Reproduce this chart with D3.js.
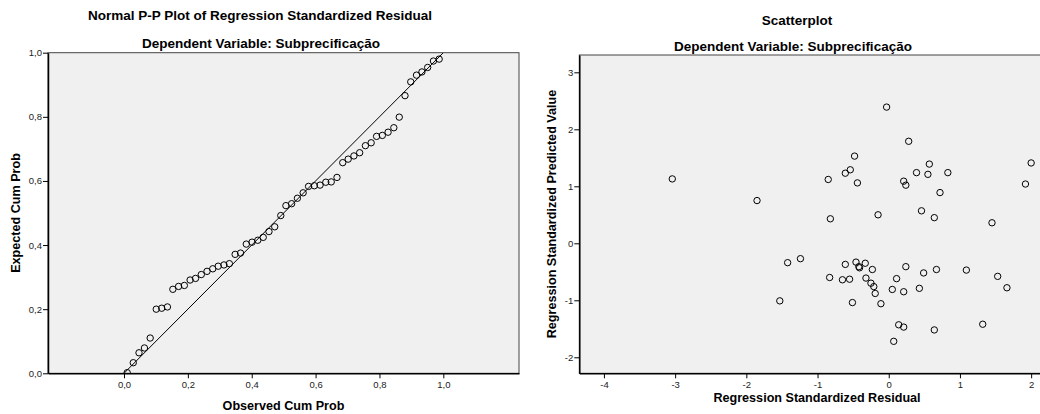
<!DOCTYPE html>
<html>
<head>
<meta charset="utf-8">
<script src="https://cdn.jsdelivr.net/npm/d3@7"></script>
<style>
  body { margin: 0; background: #fff; }
  text { font-family: "Liberation Sans", Arial, sans-serif; }
  .title { font-size: 13.5px; font-weight: bold; fill: #000; }
  .axis-label { font-size: 12.6px; font-weight: bold; fill: #000; }
  .tick text { font-size: 9.5px; fill: #222; }
</style>
</head>
<body>
<div id="chart"></div>
<script>

// Page size
const width = 1040;
const height = 414;

// P-P plot data (observed vs expected cumulative probability)
const ppObserved = [0.010, 0.029, 0.047, 0.064, 0.082, 0.101, 0.118, 0.136, 0.153, 0.171,
  0.189, 0.207, 0.224, 0.242, 0.260, 0.278, 0.295, 0.313, 0.330, 0.348,
  0.365, 0.383, 0.401, 0.419, 0.436, 0.454, 0.472, 0.491, 0.507, 0.525,
  0.543, 0.561, 0.578, 0.596, 0.614, 0.632, 0.649, 0.667, 0.685, 0.702,
  0.720, 0.738, 0.756, 0.774, 0.791, 0.809, 0.827, 0.845, 0.862, 0.880,
  0.898, 0.916, 0.933, 0.951, 0.969, 0.987];
const ppExpected = [0.002, 0.033, 0.064, 0.079, 0.110, 0.200, 0.203, 0.207, 0.262, 0.271,
  0.274, 0.291, 0.296, 0.308, 0.318, 0.326, 0.334, 0.338, 0.342, 0.371,
  0.375, 0.403, 0.409, 0.415, 0.424, 0.442, 0.457, 0.492, 0.523, 0.529,
  0.546, 0.563, 0.583, 0.585, 0.587, 0.596, 0.597, 0.611, 0.657, 0.668,
  0.678, 0.688, 0.710, 0.719, 0.739, 0.742, 0.752, 0.766, 0.799, 0.866,
  0.909, 0.930, 0.940, 0.954, 0.974, 0.980];
const ppTicks = [0, 0.2, 0.4, 0.6, 0.8, 1.0];

// Scatterplot data (standardized residual vs standardized predicted value)
const residual = [-3.04, -1.85, -0.85, -0.61, -0.54, -0.48, -0.44, -0.03, 0.21, 0.24,
  0.28, 0.39, 0.57, 0.55, 0.83, 0.72, 1.92, 2.00,
  -0.82, -0.15, 0.46, 0.64, 1.45,
  -1.42, -1.24, -1.53, -0.83, -0.65, -0.55, -0.61, -0.46, -0.42, -0.41,
  -0.33, -0.23, -0.32, -0.25, -0.21, -0.19, -0.51, -0.11, 0.24, 0.11,
  0.05, 0.21, 0.43, 0.49, 0.67, 1.09, 1.53, 1.66, 0.14, 0.21, 0.64, 1.32, 0.07];
const predicted = [1.13, 0.75, 1.12, 1.23, 1.29, 1.53, 1.06, 2.39, 1.09, 1.02,
  1.79, 1.24, 1.39, 1.21, 1.24, 0.89, 1.04, 1.41,
  0.43, 0.50, 0.57, 0.45, 0.36,
  -0.34, -0.27, -1.01, -0.60, -0.64, -0.63, -0.37, -0.33, -0.41, -0.43,
  -0.35, -0.46, -0.61, -0.70, -0.76, -0.88, -1.04, -1.06, -0.41, -0.62,
  -0.81, -0.85, -0.79, -0.52, -0.46, -0.47, -0.58, -0.78, -1.43, -1.47, -1.52, -1.42, -1.72];
const residTicks = [-4, -3, -2, -1, 0, 1, 2];
const predTicks = [-2, -1, 0, 1, 2, 3];

// comma decimals and plain hyphen minus, like the SPSS output
const locale = d3.formatLocale({decimal: ",", thousands: ".", grouping: [3], currency: ["", ""], minus: "-"});
const fmt1 = locale.format(".1f");
const fmt0 = locale.format("d");

const svg = d3.select("#chart")
  .append("svg")
  .attr("width", width)
  .attr("height", height);

// draws one framed panel, returns group for marks
function panel(x, y, id) {
  const r = [x.range(), y.range()];
  svg.append("clipPath").attr("id", id)
    .append("rect")
    .attr("x", r[0][0]).attr("y", r[1][1])
    .attr("width", r[0][1] - r[0][0]).attr("height", r[1][0] - r[1][1]);
  svg.append("rect")
    .attr("x", r[0][0]).attr("y", r[1][1])
    .attr("width", r[0][1] - r[0][0]).attr("height", r[1][0] - r[1][1])
    .attr("fill", "#f0f0f0")
    .attr("stroke", "#444")
    .attr("stroke-width", 1);
  return svg.append("g").attr("clip-path", `url(#${id})`);
}

function axes(x, y, xTicks, yTicks, xf, yf) {
  svg.append("g")
    .attr("transform", `translate(0,${y.range()[0]})`)
    .call(d3.axisBottom(x).tickValues(xTicks).tickFormat(xf).tickSize(5).tickSizeOuter(0))
    .call(g => g.select(".domain").attr("stroke", "#000").attr("stroke-width", 1.5));
  svg.append("g")
    .attr("transform", `translate(${x.range()[0]},0)`)
    .call(d3.axisLeft(y).tickValues(yTicks).tickFormat(yf).tickSize(5).tickSizeOuter(0).tickPadding(1))
    .call(g => g.select(".domain").attr("stroke", "#000").attr("stroke-width", 1.5));
}

/* Left: Normal P-P plot */

const xPP = d3.scaleLinear().domain([-0.238, 1.237]).range([48, 519]);
const yPP = d3.scaleLinear().domain([0, 1]).range([373.3, 52.7]);

const g1 = panel(xPP, yPP, "clip1");

g1.append("line")
  .attr("x1", xPP(0)).attr("y1", yPP(0))
  .attr("x2", xPP(1)).attr("y2", yPP(1))
  .attr("stroke", "#000")
  .attr("stroke-width", 1);

g1.selectAll(".pp")
  .data(d3.range(ppObserved.length))
  .enter()
  .append("circle")
    .attr("class", "pp")
    .attr("cx", i => xPP(ppObserved[i]))
    .attr("cy", i => yPP(ppExpected[i]))
    .attr("r", 3.2)
    .attr("fill", "none")
    .attr("stroke", "#000")
    .attr("stroke-width", 1);

axes(xPP, yPP, ppTicks, ppTicks, fmt1, fmt1);

svg.append("text").attr("class", "title")
  .attr("x", 260).attr("y", 20).attr("text-anchor", "middle")
  .text("Normal P-P Plot of Regression Standardized Residual");
svg.append("text").attr("class", "title")
  .attr("x", 261).attr("y", 48).attr("text-anchor", "middle")
  .text("Dependent Variable: Subprecificação");
svg.append("text").attr("class", "axis-label")
  .attr("x", 283.5).attr("y", 409.5).attr("text-anchor", "middle")
  .text("Observed Cum Prob");
svg.append("text").attr("class", "axis-label")
  .attr("transform", `translate(20,213) rotate(-90)`)
  .attr("text-anchor", "middle")
  .text("Expected Cum Prob");

/* Right: Scatterplot */

const xSc = d3.scaleLinear().domain([-4.346, 2.335]).range([579.3, 1055]);
const ySc = d3.scaleLinear().domain([-2.281, 3.304]).range([373.3, 55]);

const g2 = panel(xSc, ySc, "clip2");

g2.selectAll(".pt")
  .data(d3.range(residual.length))
  .enter()
  .append("circle")
    .attr("class", "pt")
    .attr("cx", i => xSc(residual[i]))
    .attr("cy", i => ySc(predicted[i]))
    .attr("r", 3.2)
    .attr("fill", "none")
    .attr("stroke", "#000")
    .attr("stroke-width", 1);

axes(xSc, ySc, residTicks, predTicks, fmt0, fmt0);

svg.append("text").attr("class", "title")
  .attr("x", 797).attr("y", 25).attr("text-anchor", "middle")
  .text("Scatterplot");
svg.append("text").attr("class", "title")
  .attr("x", 793).attr("y", 51).attr("text-anchor", "middle")
  .text("Dependent Variable: Subprecificação");
svg.append("text").attr("class", "axis-label")
  .attr("x", 817).attr("y", 401.5).attr("text-anchor", "middle")
  .text("Regression Standardized Residual");
svg.append("text").attr("class", "axis-label")
  .attr("transform", `translate(556,214) rotate(-90)`)
  .attr("text-anchor", "middle")
  .text("Regression Standardized Predicted Value");

</script>
</body>
</html>
